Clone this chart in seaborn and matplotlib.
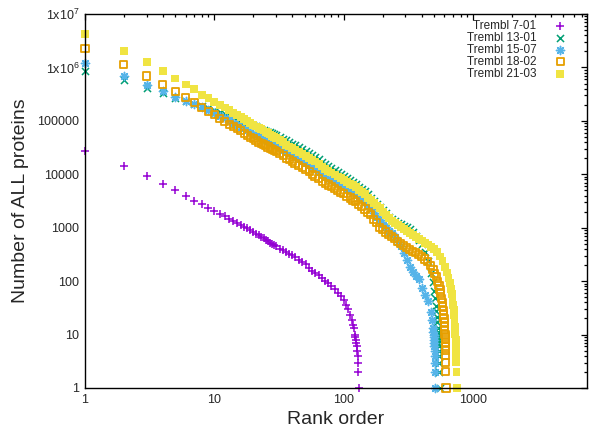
import numpy as np
import pandas as pd
import matplotlib
matplotlib.use("Agg")
import matplotlib.pyplot as plt
from matplotlib.ticker import FixedLocator, LogLocator, NullFormatter, FixedFormatter
import seaborn as sns

# ---------------- data ----------------
series_names = ["Trembl 7-01", "Trembl 13-01", "Trembl 15-07", "Trembl 18-02", "Trembl 21-03"]

rank_7_01 = [1, 2, 3, 4, 5, 6, 7, 8, 9, 10, 11, 12, 13, 14, 15, 16, 17, 18, 19, 20,
             21, 22, 23, 24, 25, 26, 27, 28, 29, 30, 32, 34, 36, 38, 40, 42, 45, 48,
             51, 54, 57, 60, 64, 68, 72, 76, 80, 85, 90, 95, 100, 104, 108, 112, 115,
             118, 120, 122, 123, 124, 125, 126, 127, 128, 129, 130, 131]
count_7_01 = [27500, 14600, 9300, 6600, 5000, 3900, 3200, 2750, 2350, 2070, 1840, 1640,
              1480, 1340, 1230, 1120, 1050, 970, 890, 830, 775, 725, 680, 630, 595, 560,
              525, 500, 473, 447, 407, 376, 347, 324, 302, 282, 251, 226, 209, 178,
              158, 145, 129, 115, 100, 91, 81, 71, 60, 52, 44, 36, 30, 23, 19, 15, 13,
              10, 9, 8, 7, 6, 5, 4, 3, 2, 1]

# ranks shared by the four large releases up to their tails
rank_grid = [1, 2, 3, 4, 5, 6, 7, 8, 9, 10, 11, 12, 13, 14, 15, 16, 17, 18, 19, 20,
             21, 22, 23, 24, 25, 26, 27, 28, 29, 30, 32, 34, 36, 38, 40, 42, 45, 48,
             51, 54, 57, 60, 64, 68, 72, 76, 80, 85, 90, 95, 100, 106, 112, 118, 124,
             131, 138, 146, 154, 162, 171, 180, 190, 200, 211, 223, 235, 248, 262, 276,
             291, 307, 324, 342, 361, 381, 402, 424, 447, 472]

count_13_01 = [870000, 570000, 410000, 330000, 263000, 234000, 209000, 190000, 174000,
               158000, 145000, 135000, 126000, 117000, 110000, 102000, 96000, 91000,
               87000, 83000, 78500, 74000, 71000, 68000, 65300, 63000, 61000, 59000,
               56000, 54000, 50000, 46000, 43000, 40000, 37000, 35000, 32000, 29500,
               27200, 25100, 23000, 21100, 19000, 17000, 15500, 14100, 13000, 11900,
               10800, 10000, 9300, 8500, 7800, 7200, 6500, 5900, 5400, 4800, 4200,
               3600, 3150, 2800, 2430, 2150, 1860, 1600, 1450, 1320, 1230, 1150, 1080,
               1020, 930, 820, 710, 600, 490, 355, 240, 145]
tail_rank_13_01 = [490, 500, 508, 515, 520, 525, 529, 532, 534, 536, 537, 538, 540, 541,
                   543, 545, 547, 549, 552]
tail_count_13_01 = [95, 66, 48, 35, 28, 21, 17, 13, 11, 10, 9, 8, 7, 6, 5, 4, 3, 2, 1]

count_15_07 = [1200000, 690000, 470000, 360000, 285000, 240000, 209000, 182000, 158000,
               138000, 123000, 112000, 102000, 93000, 85000, 78000, 72000, 68000, 62400,
               57500, 54300, 51300, 48400, 45700, 43600, 41700, 39800, 38000, 36300,
               34700, 31600, 28800, 25700, 24500, 22900, 21400, 19500, 17800, 16200,
               15000, 13200, 12300, 11100, 10000, 8900, 8300, 7800, 7200, 6800, 6300,
               5900, 5400, 5000, 4700, 4300, 3850, 3430, 3000, 2500, 2200, 1860, 1620,
               1380, 1170, 1020, 860, 780, 660, 550, 450, 330, 250, 186, 150, 126, 110,
               76, 55, 42, 26]
tail_rank_15_07 = [482, 490, 494, 497, 499, 500, 502, 503, 504, 505, 506, 507, 509]
tail_count_15_07 = [19, 13, 11, 10, 9, 8, 7, 6, 5, 4, 3, 2, 1]

count_18_02 = [2240000, 1120000, 690000, 480000, 350000, 275000, 220000, 178000, 151000,
               129000, 112000, 98000, 87000, 78000, 71000, 65000, 59000, 54000, 49500,
               46000, 42700, 40000, 37600, 35500, 33900, 32400, 30900, 29500, 28200,
               27000, 24500, 22400, 20000, 18600, 17400, 16200, 14800, 13500, 12400,
               11500, 10000, 9300, 8500, 7400, 6800, 6300, 5900, 5500, 5000, 4600, 4300,
               3900, 3600, 3300, 3050, 2750, 2500, 2240, 1950, 1740, 1450, 1230, 1020,
               910, 830, 740, 680, 620, 550, 500, 460, 420, 390, 365, 340, 315, 290,
               260, 235, 200]
tail_rank_18_02 = [490, 505, 520, 533, 545, 555, 563, 570, 576, 582, 587, 592, 596, 600,
                   603, 605, 607, 608, 609, 610, 611, 612, 613, 614, 615, 618]
tail_count_18_02 = [166, 141, 120, 100, 83, 69, 58, 48, 40, 33, 28, 24, 20, 17, 14, 12,
                    10, 9, 8, 7, 6, 5, 4, 3, 2, 1]

count_21_03 = [4260000, 2040000, 1260000, 870000, 620000, 480000, 390000, 310000, 263000,
               229000, 200000, 178000, 158000, 141000, 129000, 117000, 107000, 100000,
               91000, 83000, 78500, 74000, 70000, 66000, 62400, 59000, 55600, 52500,
               50100, 48000, 43600, 39800, 35500, 33100, 30900, 28800, 26300, 24000,
               22100, 20400, 18600, 17400, 15500, 14000, 12600, 11700, 10800, 9900,
               9100, 8400, 7850, 7200, 6700, 6200, 5700, 5100, 4700, 4200, 3600, 3300,
               2900, 2600, 2350, 2000, 1740, 1510, 1330, 1220, 1110, 1020, 940, 870,
               800, 740, 680, 620, 575, 525, 485, 440]
tail_rank_21_03 = [498, 525, 553, 580, 605, 627, 645, 660, 673, 684, 693, 701, 708, 714,
                   719, 723, 726, 729, 731, 733, 735, 737, 739, 740, 742, 744, 746]
tail_count_21_03 = [394, 347, 290, 235, 186, 145, 115, 91, 72, 58, 46, 36, 29, 23, 18,
                    14, 12, 10, 9, 8, 7, 6, 5, 4, 3, 2, 1]

x_tick_values = [1, 10, 100, 1000]
x_tick_labels = ["1", "10", "100", "1000"]
y_tick_values = [1, 10, 100, 1000, 10000, 100000, 1e6, 1e7]
y_tick_labels = ["1", "10", "100", "1000", "10000", "100000",
                 "1x10$^{6}$", "1x10$^{7}$"]

# ---------------- style ----------------
sns.set_style("white")
plt.rcParams["font.family"] = ["Liberation Sans", "DejaVu Sans"]
plt.rcParams["mathtext.fontset"] = "custom"
plt.rcParams["mathtext.rm"] = "Liberation Sans"
plt.rcParams["mathtext.it"] = "Liberation Sans"

colors = ["#9400D3", "#009E73", "#56B4E9", "#E69F00", "#F0E442"]

fig = plt.figure(figsize=(5.9, 4.3), dpi=100)
ax = fig.add_axes([85 / 590, 42 / 430, 502 / 590, 374 / 430])

all_ranks = [rank_7_01,
             rank_grid + tail_rank_13_01,
             rank_grid + tail_rank_15_07,
             rank_grid + tail_rank_18_02,
             rank_grid + tail_rank_21_03]
all_counts = [count_7_01,
              count_13_01 + tail_count_13_01,
              count_15_07 + tail_count_15_07,
              count_18_02 + tail_count_18_02,
              count_21_03 + tail_count_21_03]

handles = []
for i, (name, r, c) in enumerate(zip(series_names, all_ranks, all_counts)):
    df = pd.DataFrame({"rank": r, "count": c})
    col = colors[i]
    if i == 0:
        sns.scatterplot(data=df, x="rank", y="count", marker="+", color=col,
                        s=34, linewidth=1.1, ax=ax, legend=False)
    elif i == 1:
        sns.scatterplot(data=df, x="rank", y="count", marker="x", color=col,
                        s=26, linewidth=1.1, ax=ax, legend=False)
    elif i == 2:
        sns.scatterplot(data=df, x="rank", y="count", marker=(8, 2, 0), color=col,
                        s=34, linewidth=1.1, ax=ax, legend=False)
    elif i == 3:
        sns.scatterplot(data=df, x="rank", y="count", marker="s", color=col,
                        facecolor="none", edgecolor=col,
                        s=26, linewidth=1.3, ax=ax, legend=False)
    else:
        sns.scatterplot(data=df, x="rank", y="count", marker="s", color=col,
                        edgecolor="none", s=32, linewidth=0, ax=ax, legend=False)
    coll = ax.collections[-1]
    coll.set_clip_on(False)
    handles.append(coll)

ax.set_xscale("log")
ax.set_yscale("log")
ax.set_xlim(1, 7600)
ax.set_ylim(1, 1e7)

ax.xaxis.set_major_locator(FixedLocator(x_tick_values))
ax.xaxis.set_major_formatter(FixedFormatter(x_tick_labels))
ax.xaxis.set_minor_locator(LogLocator(base=10, subs=np.arange(2, 10), numticks=20))
ax.xaxis.set_minor_formatter(NullFormatter())
ax.yaxis.set_major_locator(FixedLocator(y_tick_values))
ax.yaxis.set_major_formatter(FixedFormatter(y_tick_labels))
ax.yaxis.set_minor_locator(LogLocator(base=10, subs=np.arange(2, 10), numticks=20))
ax.yaxis.set_minor_formatter(NullFormatter())

ax.tick_params(which="both", direction="in", top=True, right=True, color="black",
               width=0.9)
ax.tick_params(which="major", length=4.5, labelsize=9, pad=4)
ax.tick_params(which="minor", length=2.3)
for s in ax.spines.values():
    s.set_visible(True)
    s.set_color("black")
    s.set_linewidth(1.0)

ax.set_xlabel("Rank order", fontsize=14, labelpad=4)
ax.set_ylabel("Number of ALL proteins", fontsize=14, labelpad=6)

leg = ax.legend(handles, series_names, loc="upper right", markerfirst=False,
                frameon=False, fontsize=8.5, handlelength=1.0, handletextpad=1.5,
                labelspacing=0.0, borderpad=0, borderaxespad=0,
                bbox_to_anchor=(566 / 590, 1 - 20 / 430),
                bbox_transform=fig.transFigure, scatterpoints=1)

fig.savefig("out.png", dpi=100)
